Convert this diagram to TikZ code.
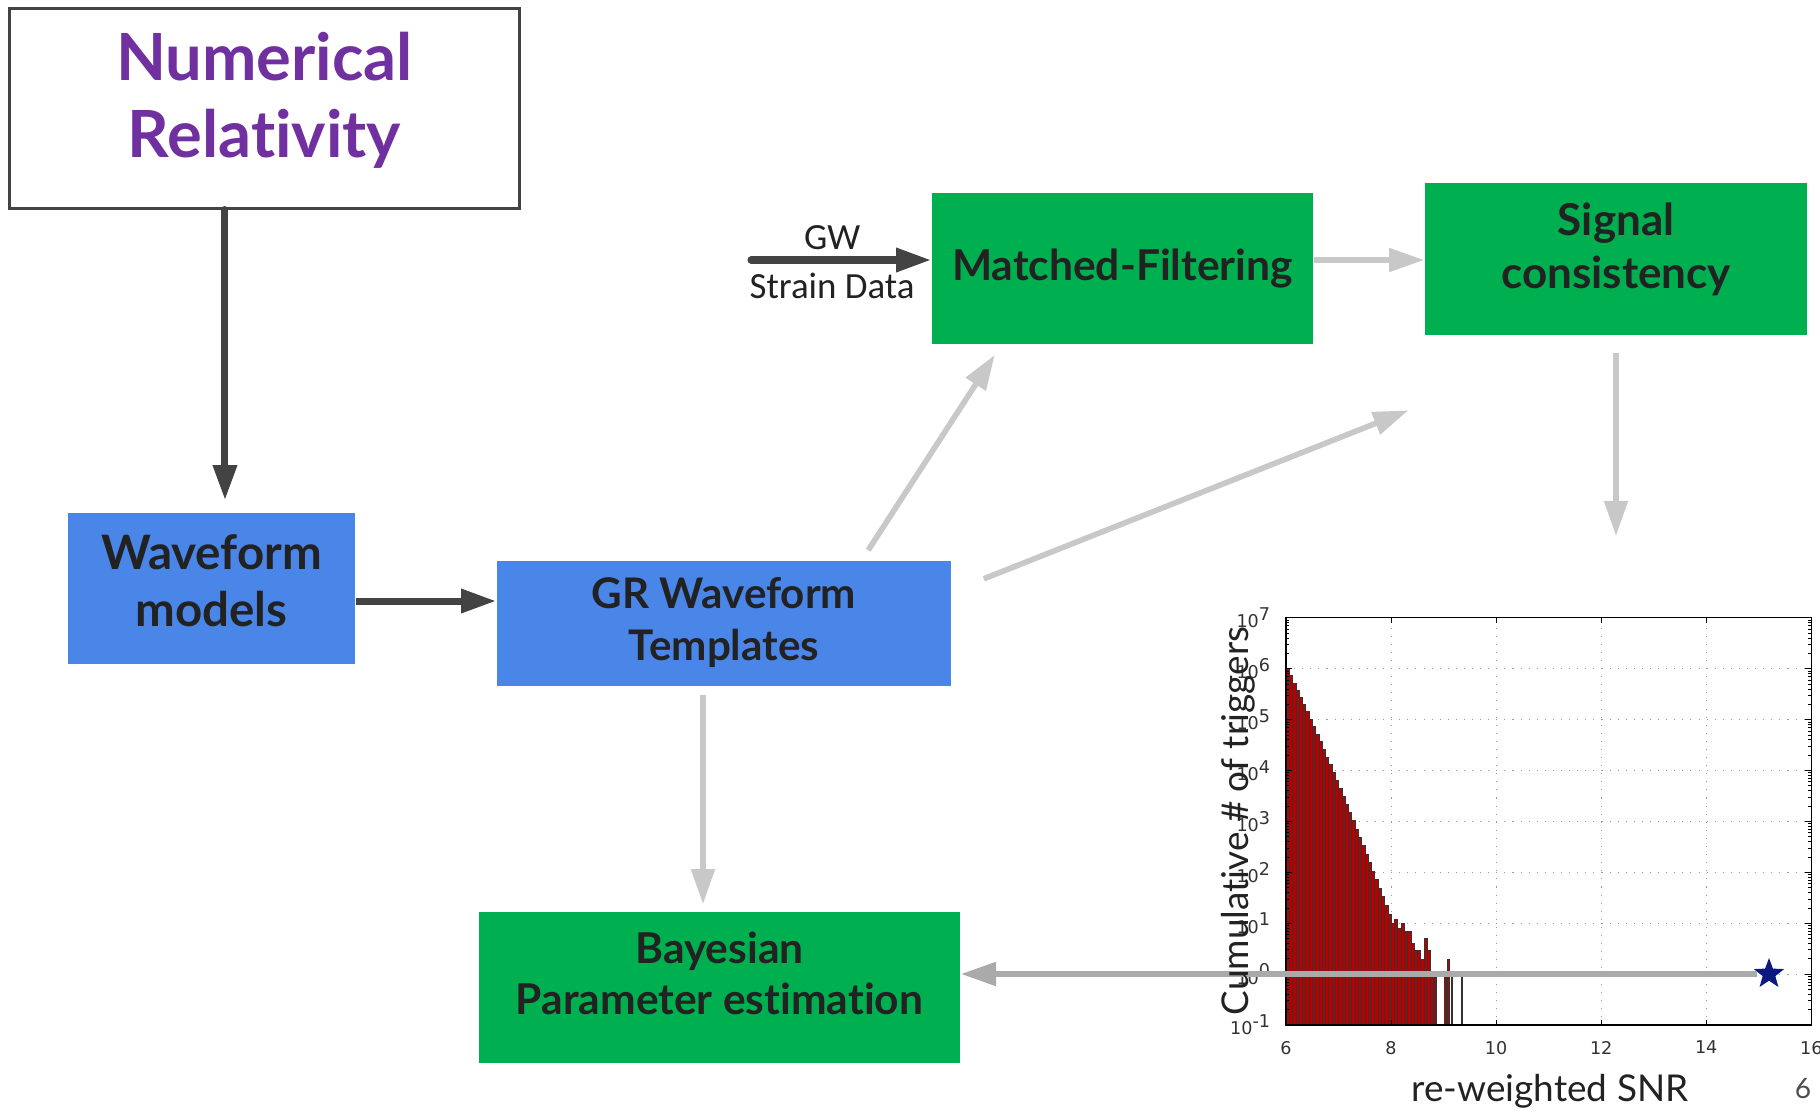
\documentclass[tikz,border=0pt]{standalone}
\usepackage{fontspec}
\usepackage{xcolor}
\setmainfont{Lato}[Ligatures=NoCommon]
\newfontfamily\slidefont{Carlito}
\newfontfamily\plotfont{DejaVu Sans}
\usetikzlibrary{arrows.meta,shapes.geometric}

\definecolor{nrpurple}{HTML}{7030A0}
\definecolor{boxgreen}{HTML}{00B050}
\definecolor{boxblue}{HTML}{4A86E8}
\definecolor{darkarc}{HTML}{434343}
\definecolor{lightarc}{HTML}{C8C8C8}
\definecolor{boxtext}{HTML}{222222}
\definecolor{barred}{HTML}{B80000}
\definecolor{starblue}{HTML}{0B1A80}

\tikzset{
  greenbox/.style={fill=boxgreen,inner sep=0pt},
  bluebox/.style={fill=boxblue,inner sep=0pt},
  boxlabel/.style={text=boxtext,align=center,inner sep=0pt},
  darkflow/.style={draw=darkarc,line width=2pt,-{Triangle[length=10pt,width=6.5pt]}},
  lightflow/.style={draw=lightarc,line width=1.6pt,-{Triangle[length=10pt,width=6.5pt]}},
  histbar/.style={fill=barred,draw=black!80,line width=0.15pt},
  plotgrid/.style={gray!80,line width=0.3pt,dotted},
  ticklabel/.style={font=\plotfont\fontsize{5}{6}\selectfont,text=black!80},
}

\begin{document}
\begin{tikzpicture}[x=0.01cm,y=-0.01cm]
\useasboundingbox (0,0) rectangle (1820,1111);

% boxes
\node[draw=darkarc,line width=0.85pt,fill=white,minimum width=5.09cm,minimum height=1.99cm,
  label={[boxlabel,text=nrpurple,font=\fontsize{18.5}{22}\selectfont\bfseries,yshift=0.083cm]center:Numerical\\Relativity}] (nr) at (264.5,108.5) {};
\node[bluebox,minimum width=2.87cm,minimum height=1.51cm,
  label={[boxlabel,font=\fontsize{13.5}{16.2}\selectfont\bfseries,yshift=0.08cm]center:Waveform\\ models}] (wm) at (211.5,588.5) {};
\node[bluebox,minimum width=4.54cm,minimum height=1.25cm,
  label={[boxlabel,font=\fontsize{12}{15}\selectfont\bfseries,yshift=0.01cm]center:GR Waveform\\Templates}] (gr) at (724,623.5) {};
\node[greenbox,minimum width=3.81cm,minimum height=1.51cm,
  label={[boxlabel,font=\fontsize{12.1}{14}\selectfont\bfseries]center:Matched-Filtering}] (mf) at (1122.5,268.5) {};
\node[greenbox,minimum width=3.82cm,minimum height=1.52cm,
  label={[boxlabel,font=\fontsize{12.5}{15}\selectfont\bfseries,yshift=0.1cm]center:Signal\\ consistency}] (sc) at (1616,259) {};
\node[greenbox,minimum width=4.81cm,minimum height=1.51cm,
  label={[boxlabel,font=\fontsize{12.1}{14.5}\selectfont\bfseries,yshift=0.14cm]center:Bayesian\\Parameter estimation}] (be) at (719.5,987.5) {};

% free ends
\coordinate (gwin) at (751,260);
\coordinate (plotin) at (1616,536);

% dark arrows
\draw[darkflow,line cap=round,shorten >=0.12cm] ([xshift=-0.395cm]nr.south) -- ([xshift=-0.395cm]nr.south |- wm.north);
\draw[darkflow] ([yshift=-0.125cm]wm.east) -- ([yshift=-0.125cm]wm.east -| gr.west);
\draw[darkflow,line cap=round] (gwin) -- (gwin -| mf.west)
  node[pos=0.45,above=-1.5pt,text=boxtext,font=\slidefont\fontsize{10.5}{12}\selectfont] (gwlab) {GW}
  node[pos=0.45,below=-0.5pt,text=boxtext,font=\slidefont\fontsize{10.5}{12}\selectfont] (strainlab) {Strain Data};

% light arrows
\draw[lightflow] ([yshift=0.085cm]mf.east) -- ([yshift=0.085cm]mf.east -| sc.west);
\draw[lightflow,shorten <=0.12cm,shorten >=0.12cm] ([xshift=1.376cm]gr.north) -- ([xshift=-1.211cm]mf.south);
\draw[lightflow,shorten <=0.344cm,shorten >=0.17cm] ([yshift=0.32cm]gr.east) -- ([yshift=-1.45cm]sc.west);
\draw[lightflow,shorten <=0.17cm] (sc.south) -- (plotin);
\draw[lightflow,shorten <=0.08cm,shorten >=0.07cm] ([xshift=-0.21cm]gr.south) -- ([xshift=-0.21cm]gr.south |- be.north);

% trigger plot
\begin{scope}[shift={(1286,1025)},x=0.525cm,y=0.50875cm]
\foreach \gx in {2,4,6,8}
  \draw[plotgrid] (\gx,0) -- (\gx,8);
\foreach \gy in {1,...,7}
  \draw[plotgrid] (0,\gy) -- (10,\gy);
\foreach \i in {0,...,31}{
  \pgfmathsetmacro\d{\i*0.0625}
  \pgfmathsetmacro\h{7-2.2*\d-0.15*\d*\d}
  \filldraw[histbar] (\d,0) rectangle (\d+0.0625,\h);
}
\foreach \b/\n in {32/10,33/12,34/8,35/10,36/7,37/7,38/4,39/3,40/3,41/2,42/5,43/3,44/1}{
  \pgfmathsetmacro\h{1+ln(\n)/ln(10)}
  \filldraw[histbar] (\b*0.0625,0) rectangle (\b*0.0625+0.0625,\h);
}
\foreach \b/\n in {45/1,48/1,49/2,50/1,53/1}{
  \pgfmathsetmacro\h{1+ln(\n)/ln(10)}
  \filldraw[histbar] (\b*0.0625+0.015,0) rectangle (\b*0.0625+0.045,\h);
}
\draw[black,line width=0.4pt] (0,0) rectangle (10,8);
\foreach \tx/\tl in {0/6,2/8,4/10,6/12,8/14,10/16}{
  \draw[line width=0.3pt] (\tx,0) -- (\tx,0.1) (\tx,8) -- (\tx,7.9);
  \node[ticklabel,below=1pt] (xt\tl) at (\tx,0) {\tl};
}
\foreach \ty/\tl in {0/-1,1/0,2/1,3/2,4/3,5/4,6/5,7/6,8/7}{
  \draw[line width=0.3pt] (0,\ty) -- (0.12,\ty) (10,\ty) -- (9.88,\ty);
  \node[ticklabel,left=0.5pt] (yt\ty) at (0,\ty) {10\textsuperscript{\tl}};
}
\foreach \ty in {0,...,7}
  \foreach \k in {2,...,9}{
    \pgfmathsetmacro\m{\ty+ln(\k)/ln(10)}
    \draw[line width=0.2pt] (0,\m) -- (0.06,\m) (10,\m) -- (9.94,\m);
  }
\end{scope}

\node[star,star points=5,star point ratio=2.4,fill=starblue,inner sep=0pt,minimum size=0.32cm] (snrstar) at (1769,974) {};
\draw[lightflow,draw=lightarc!85!black,shorten <=0.02cm] (snrstar.west) -- ([yshift=0.135cm]be.east);

% plot labels
\node[rotate=90,font=\fontsize{10.5}{12}\selectfont,text=boxtext] (ylab) at (1238,821) {Cumulative \# of triggers};
\node[font=\fontsize{10.5}{12}\selectfont,text=boxtext] (xlab) at (1550,1091) {re-weighted SNR};
\node[font=\fontsize{8}{10}\selectfont,text=boxtext!80] (pagenum) at (1803,1089) {6};
\end{tikzpicture}
\end{document}
